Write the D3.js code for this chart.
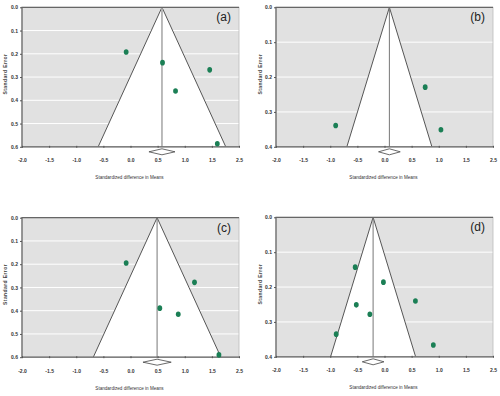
<!DOCTYPE html>
<html>
<head>
<meta charset="utf-8">
<script src="https://cdn.jsdelivr.net/npm/d3@7"></script>
<style>
  body { margin: 0; background: #fff; }
  svg { display: block; font-family: "Liberation Sans", Arial, sans-serif; }
</style>
</head>
<body>
<div id="chart"></div>
<script>
// x tick labels as printed (last one reads 2.5)
const xTickValues = [-2.0, -1.5, -1.0, -0.5, 0.0, 0.5, 1.0, 1.5, 2.0];
const xTickLabels = ["-2.0", "-1.5", "-1.0", "-0.5", "0.0", "0.5", "1.0", "1.5", "2.5"];

// panel (a)
const diffA = [-0.08, 0.59, 1.46, 0.83, 1.60];
const seA = [0.192, 0.238, 0.269, 0.360, 0.587];
// panel (b)
const diffB = [0.75, -0.90, 1.04];
const seB = [0.229, 0.339, 0.351];
// panel (c)
const diffC = [-0.08, 1.18, 0.54, 0.88, 1.63];
const seC = [0.195, 0.278, 0.389, 0.415, 0.590];
// panel (d)
const diffD = [-0.54, -0.02, 0.57, -0.52, -0.27, -0.89, 0.90];
const seD = [0.143, 0.186, 0.240, 0.251, 0.278, 0.335, 0.366];

const panelLetters = ["(a)", "(b)", "(c)", "(d)"];
const pooledMeans = [0.58, 0.09, 0.49, -0.21];
const pooledHalfCI = [0.24, 0.20, 0.26, 0.20];
const seMaxes = [0.6, 0.4, 0.6, 0.4];
const seTicksA = [0, 0.1, 0.2, 0.3, 0.4, 0.5, 0.6];
const seTicksB = [0, 0.1, 0.2, 0.3, 0.4];

const panels = [
  { diff: diffA, se: seA, seTicks: seTicksA, left: 22, top: 7.3 },
  { diff: diffB, se: seB, seTicks: seTicksB, left: 276, top: 7.3 },
  { diff: diffC, se: seC, seTicks: seTicksA, left: 22, top: 217.7 },
  { diff: diffD, se: seD, seTicks: seTicksB, left: 276, top: 217.3 }
];

const W = 500, H = 396;
const plotW = 217, plotH = 139.5;
const bgColor = "#e1e1e1";
const frameColor = "#666";
const dotColor = "#1b7f55";

const svg = d3.select("#chart").append("svg")
  .attr("width", W).attr("height", H);

panels.forEach((p, i) => {
  const g = svg.append("g").attr("transform", `translate(${p.left},${p.top})`);
  const x = d3.scaleLinear().domain([-2, 2]).range([0, plotW]);
  const y = d3.scaleLinear().domain([0, seMaxes[i]]).range([0, plotH]);
  const mean = pooledMeans[i];
  const seMax = seMaxes[i];

  const clipId = "clip" + i;
  g.append("clipPath").attr("id", clipId)
    .append("rect").attr("width", plotW).attr("height", plotH);

  // background
  g.append("rect").attr("width", plotW).attr("height", plotH).attr("fill", bgColor);

  // gridlines
  g.selectAll(".grid").data(p.seTicks.filter(t => t > 0 && t < seMax))
    .enter().append("line")
    .attr("x1", 0).attr("x2", plotW)
    .attr("y1", d => y(d)).attr("y2", d => y(d))
    .attr("stroke", "#fff").attr("stroke-width", 1);

  // funnel (95% limits)
  const funnel = [[mean, 0], [mean - 1.96 * seMax, seMax], [mean + 1.96 * seMax, seMax]];
  g.append("path")
    .attr("clip-path", `url(#${clipId})`)
    .attr("d", "M" + funnel.map(d => [x(d[0]), y(d[1])].join(",")).join("L") + "Z")
    .attr("fill", "#fff");
  g.append("path")
    .attr("clip-path", `url(#${clipId})`)
    .attr("d", `M${x(funnel[1][0])},${y(seMax)}L${x(mean)},${y(0)}L${x(funnel[2][0])},${y(seMax)}`)
    .attr("fill", "none").attr("stroke", "#555").attr("stroke-width", 1);

  // vertical line at pooled mean
  g.append("line")
    .attr("x1", x(mean)).attr("x2", x(mean))
    .attr("y1", 0).attr("y2", plotH)
    .attr("stroke", i === 0 ? "#aaa" : "#777").attr("stroke-width", i === 0 ? 1.6 : 1);

  // frame
  g.append("rect").attr("width", plotW).attr("height", plotH)
    .attr("fill", "none").attr("stroke", "#bbb").attr("stroke-width", 0.8);
  g.append("path")
    .attr("d", `M${plotW},0H0V${plotH}H${plotW}`)
    .attr("fill", "none").attr("stroke", frameColor).attr("stroke-width", 1.2);

  // x axis
  const xAxis = d3.axisBottom(x).tickValues(xTickValues)
    .tickFormat((d, k) => xTickLabels[k]).tickSize(2).tickPadding(11);
  const xg = g.append("g").attr("transform", `translate(0,${plotH - 1})`).call(xAxis);
  xg.select(".domain").remove();
  xg.selectAll("line").attr("stroke", "#555");
  xg.selectAll("text").attr("font-size", 5).attr("font-weight", "bold").attr("fill", "#333");

  // y axis
  const yAxis = d3.axisLeft(y).tickValues(p.seTicks).tickFormat(d3.format(".1f"))
    .tickSize(2).tickPadding(2);
  const yg = g.append("g").call(yAxis);
  yg.select(".domain").remove();
  yg.selectAll("line").attr("stroke", "#555");
  yg.selectAll("text").attr("font-size", 5).attr("font-weight", "bold").attr("fill", "#333");

  // axis titles
  g.append("text")
    .attr("x", plotW / 2 - 1).attr("y", plotH + 32.5)
    .attr("text-anchor", "middle").attr("font-size", 4.6).attr("fill", "#333")
    .text("Standardized difference in Means");
  g.append("text")
    .attr("transform", `translate(${i % 2 === 0 ? -15 : -14},${plotH * 0.5 - 3}) rotate(-90)`)
    .attr("text-anchor", "middle").attr("font-size", 5).attr("font-weight", "bold")
    .attr("letter-spacing", 0.4).attr("fill", "#444")
    .text("Standard Error");

  // pooled diamond below the plot
  const dy = plotH + 5;
  const hc = pooledHalfCI[i];
  g.append("path")
    .attr("d", `M${x(mean - hc)},${dy}L${x(mean)},${dy - 3}L${x(mean + hc)},${dy}L${x(mean)},${dy + 3}Z`)
    .attr("fill", "#fff").attr("stroke", "#444").attr("stroke-width", 0.8);

  // study points
  g.selectAll(".pt").data(p.diff.map((d, k) => ({ d, se: p.se[k] })))
    .enter().append("ellipse")
    .attr("cx", d => x(d.d)).attr("cy", d => y(d.se))
    .attr("rx", 2.4).attr("ry", 2.8)
    .attr("fill", dotColor);

  // panel letter
  g.append("text")
    .attr("x", plotW - 8).attr("y", 14)
    .attr("text-anchor", "end").attr("font-size", 12).attr("fill", "#222")
    .text(panelLetters[i]);
});
</script>
</body>
</html>
